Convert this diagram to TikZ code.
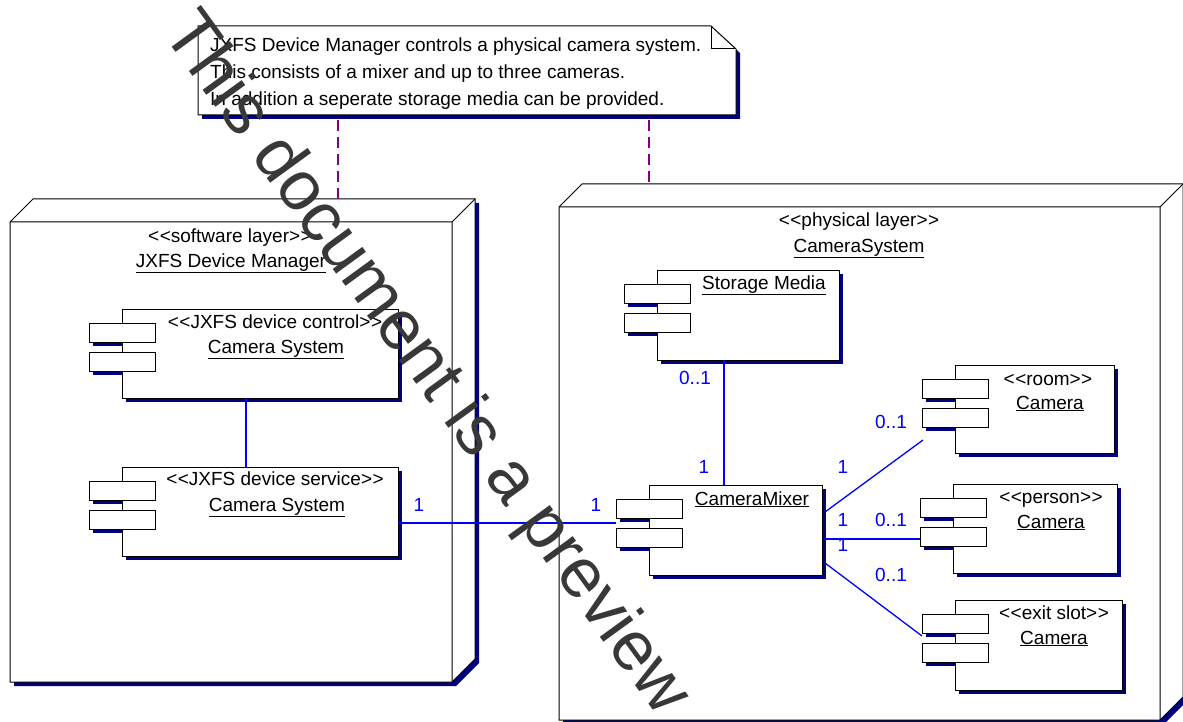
\documentclass[tikz,border=0pt]{standalone}
\usepackage{fontspec}
\setmainfont{Liberation Sans}
\usetikzlibrary{calc,shadows}
\definecolor{shadowblue}{RGB}{0,0,128}
\definecolor{assoc}{RGB}{0,0,255}
\definecolor{tracecol}{RGB}{128,0,128}
\newcommand\Stereo[1]{<\kern0.5pt<#1>\kern0.5pt>}
\newcommand\NodeBox[5]{%
    \fill[shadowblue] (#2+4,#3+4) -- (#2+27,#3-19) -- (#4+27,#3-19) -- (#4+27,#5-19) -- (#4+4,#5+4) -- (#2+4,#5+4) -- cycle;
    \filldraw[fill=white, line width=1pt] (#2,#3) -- (#2+23,#3-23) -- (#4+23,#3-23) -- (#4+23,#5-23) -- (#4,#5) -- (#2,#5) -- cycle;
    \draw[line width=1pt] (#2,#3) -- (#4,#3) -- (#4,#5) (#4,#3) -- (#4+23,#3-23);
    \coordinate (#1-back) at (#2+23,#3-23);
}
\newcommand\Component[5]{%
    \node[compbox, anchor=north west, minimum width={#4-#2}, minimum height={#5-#3}] (#1) at (#2,#3) {};
    \foreach \off/\tag in {14/a,43/b} {
        \fill[shadowblue] (#2-29,#3+\off+19) rectangle (#2,#3+\off+23);
        \node[portbox, anchor=north west] (#1-\tag) at (#2-33,#3+\off) {};
    }
}
\tikzset{
    compbox/.style={draw, fill=white, inner sep=0pt, outer sep=0pt, line width=1pt,
        general shadow={fill=shadowblue, shadow xshift=4pt, shadow yshift=-4pt}},
    portbox/.style={draw, fill=white, inner sep=0pt, outer sep=0pt, line width=1pt,
        minimum width=66pt, minimum height=19pt},
    link/.style={draw=assoc, line width=1.3pt},
    mult/.style={text=assoc, anchor=base, inner sep=0pt},
    label/.style={anchor=base, inner sep=0pt},
    tracing/.style={draw=tracecol, line width=1.4pt, dash pattern=on 11pt off 6pt},
    watermark/.style={text=black!78, font=\fontsize{70}{84}\selectfont},
}

\begin{document}
\begin{tikzpicture}[x=1pt, y=-1pt, font=\fontsize{19}{27}\selectfont]
    \useasboundingbox (0,0) rectangle (1183,722);
    % note
    \fill[shadowblue] (202,30) -- (715,30) -- (740,53) -- (740,119) -- (202,119) -- cycle;
    \filldraw[fill=white, line width=1pt] (198,26) -- (711,26) -- (736,49) -- (736,115) -- (198,115) -- cycle;
    \draw[line width=1pt] (711,26) -- (711,49) -- (736,49);
    \node[label, anchor=base west] (note-a) at (210,52) {JXFS Device Manager controls a physical camera system.};
    \node[label, anchor=base west] (note-b) at (210,79) {This consists of a mixer and up to three cameras.};
    \node[label, anchor=base west] (note-c) at (210,106) {In addition a seperate storage media can be provided.};
    \coordinate (note-foot1) at (338,120);
    \coordinate (note-foot2) at (649,120);
    % nodes
    \NodeBox{software}{10}{222}{452}{682}
    \NodeBox{physical}{559}{207}{1160}{720}
    \draw[tracing] (note-foot1) -- (note-foot1 |- software-back);
    \draw[tracing] (note-foot2) -- (note-foot2 |- physical-back);
    \node[label] (software-st) at (230,243) {\Stereo{software layer}};
    \node[label] (software-nm) at (231,267) {\underline{JXFS Device Manager}};
    \node[label] (physical-st) at (859,226) {\Stereo{physical layer}};
    \node[label] (physical-nm) at (859,252) {\underline{CameraSystem}};
    % components
    \Component{ctrl}{122}{309}{398}{398}
    \Component{service}{122}{467}{398}{556}
    \Component{storage}{657}{270}{839}{360}
    \Component{mixer}{649}{485}{822}{575}
    \Component{room}{955}{365}{1114}{453}
    \Component{person}{953}{484}{1117}{573}
    \Component{exit}{955}{600}{1122}{690}
    \node[label] (ctrl-st) at (275,328) {\Stereo{JXFS device control}};
    \node[label] (ctrl-nm) at (276,353) {\underline{Camera System}};
    \node[label] (service-st) at (275,485) {\Stereo{JXFS device service}};
    \node[label] (service-nm) at (277,511) {\underline{Camera System}};
    \node[label] (storage-nm) at (764,289) {\underline{Storage Media}};
    \node[label] (mixer-nm) at (752,505) {\underline{CameraMixer}};
    \node[label] (room-st) at (1048,385) {\Stereo{room}};
    \node[label] (room-nm) at (1050,409) {\underline{Camera}};
    \node[label] (person-st) at (1051,503) {\Stereo{person}};
    \node[label] (person-nm) at (1051,528) {\underline{Camera}};
    \node[label] (exit-st) at (1054,619) {\Stereo{exit slot}};
    \node[label] (exit-nm) at (1054,644) {\underline{Camera}};
    % associations
    \draw[link] ([xshift=-14pt]ctrl.south) -- ([xshift=-14pt]service.north);
    \draw[link] ([yshift=-11.5pt]service.east) -- ([yshift=-11.5pt]service.east -| mixer-a.west);
    \draw[link] ([xshift=-24pt]storage.south) -- ([xshift=-24pt]storage.south |- mixer.north);
    \draw[link] ([xshift=3pt, yshift=18pt]mixer.east) -- ([xshift=-32pt, yshift=13pt]room.south west);
    \draw[link] ([xshift=3pt, yshift=-9pt]mixer.east) -- ([yshift=-9pt]mixer.east -| person-b.west);
    \draw[link] ([xshift=3pt, yshift=-33pt]mixer.east) -- ([yshift=-3pt]exit-a.south west);
    \node[mult] (m-service) at (419,511) {1};
    \node[mult] (m-mixer-l) at (596,511) {1};
    \node[mult] (m-storage) at (695,384) {0..1};
    \node[mult] (m-mixer-t) at (704,473) {1};
    \node[mult] (m-mixer-r1) at (843,473) {1};
    \node[mult] (m-room) at (891,428) {0..1};
    \node[mult] (m-mixer-r2) at (843,526) {1};
    \node[mult] (m-person) at (891,526) {0..1};
    \node[mult] (m-mixer-r3) at (843,551) {1};
    \node[mult] (m-exit) at (891,581) {0..1};
    % preview stamp
    \node[watermark, rotate=-54] (preview) at (425,365) {This document is a preview};
\end{tikzpicture}
\end{document}
